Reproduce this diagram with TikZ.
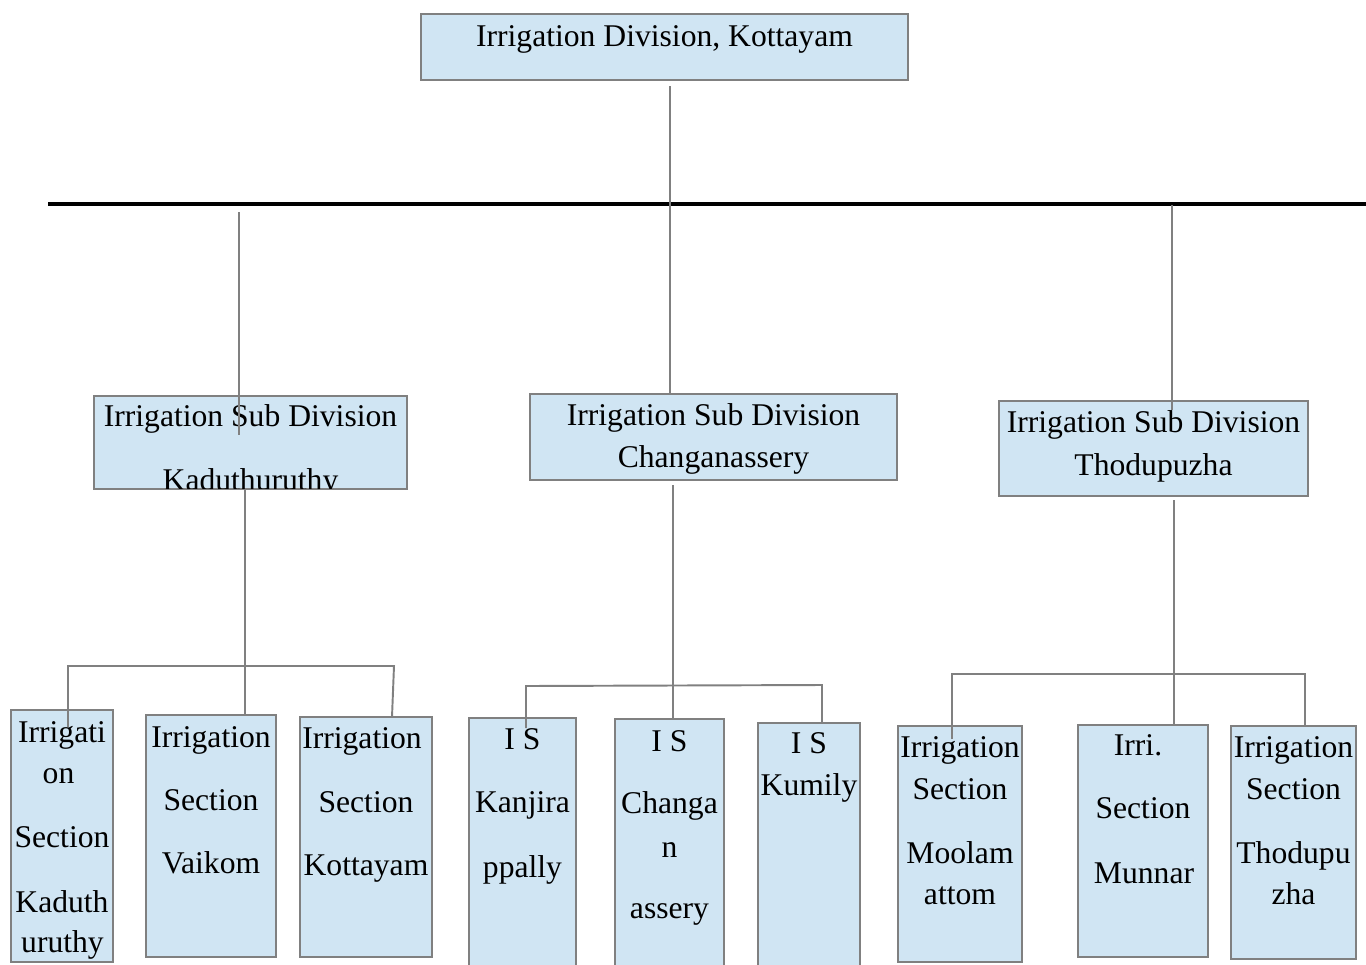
\documentclass[tikz,border=0pt]{standalone}
\usepackage{fontspec}
\setmainfont{Liberation Serif}
\definecolor{boxfill}{RGB}{208,229,243}
\definecolor{boxline}{RGB}{128,128,128}
\tikzset{
  box/.style={rectangle, draw=boxline, fill=boxfill, line width=1.1pt, inner sep=0pt, outer sep=0pt},
  txt/.style={font=\fontsize{18}{22}\selectfont, inner sep=0pt, anchor=base, text=black},
  conn/.style={draw=boxline, line width=1.1pt},
  bar/.style={draw=black, line width=2pt}
}
\newcommand\bx[5]{\node[box, minimum width={(#4-#2)*0.02cm}, minimum height={(#5-#3)*0.02cm}] (#1) at ({(#2+#4)/2},{(#3+#5)/2}) {};}
\newcommand\tline[4]{\node[txt] (#1) at (#2,#3) {#4};}
\begin{document}
\begin{tikzpicture}[x=0.02cm,y=-0.02cm]
\useasboundingbox (0,0) rectangle (1366,964);
\begin{scope}
\clip (0,0) rectangle (1366,964);
% boxes
\bx{top}{421}{14}{908}{80}
\bx{sdk}{94}{396}{407}{489}
\bx{sdc}{530}{394}{897}{480}
\bx{sdt}{999}{401}{1308}{496}
\bx{isk}{11}{710}{113}{962}
\bx{isv}{146}{715}{276}{957}
\bx{isko}{300}{717}{432}{957}
\bx{iskp}{469}{718}{576}{985}
\bx{isc}{615}{719}{724}{985}
\bx{iskm}{758}{723}{860}{985}
\bx{ism}{898}{726}{1022}{962}
\bx{ismu}{1078}{725}{1208}{957}
\bx{ist}{1231}{726}{1356}{959}
% texts
\tline{ttop}{664.5}{46}{Irrigation Division, Kottayam}
\tline{tsdk1}{250.5}{426}{Irrigation Sub Division}
\begin{scope}
\clip (95,397) rectangle (406,488);
\tline{tsdk2}{250.5}{490}{Kaduthuruthy}
\end{scope}
\tline{tsdc1}{713.5}{425}{Irrigation Sub Division}
\tline{tsdc2}{713.5}{467}{Changanassery}
\tline{tsdt1}{1153.5}{432}{Irrigation Sub Division}
\tline{tsdt2}{1153.5}{475}{Thodupuzha}
% section texts
\tline{tisk1}{62}{742}{Irrigati}
\tline{tisk2}{58.5}{783}{on}
\tline{tisk3}{62}{847}{Section}
\tline{tisk4}{62}{912}{Kaduth}
\tline{tisk5}{62.5}{952}{uruthy}
\tline{tisv1}{211}{747}{Irrigation}
\tline{tisv2}{211}{810}{Section}
\tline{tisv3}{211}{873}{Vaikom}
\tline{tisko1}{362}{748}{Irrigation}
\tline{tisko2}{366}{812}{Section}
\tline{tisko3}{366}{875}{Kottayam}
\tline{tiskp1}{522.5}{749}{I S}
\tline{tiskp2}{522.5}{812}{Kanjira}
\tline{tiskp3}{522.5}{877}{ppally}
\tline{tisc1}{669.5}{751}{I S}
\tline{tisc2}{669.5}{813}{Changa}
\tline{tisc3}{669.5}{857}{n}
\tline{tisc4}{669.5}{918}{assery}
\tline{tiskm1}{809}{753}{I S}
\tline{tiskm2}{809}{795}{Kumily}
\tline{tism1}{960}{757}{Irrigation}
\tline{tism2}{960}{799}{Section}
\tline{tism3}{960}{863}{Moolam}
\tline{tism4}{960}{904}{attom}
\tline{tismu1}{1138}{755}{Irri.}
\tline{tismu2}{1143}{818}{Section}
\tline{tismu3}{1144}{883}{Munnar}
\tline{tist1}{1293.5}{757}{Irrigation}
\tline{tist2}{1293.5}{799}{Section}
\tline{tist3}{1293.5}{863}{Thodupu}
\tline{tist4}{1293.5}{904}{zha}
% main bar
\coordinate (barL) at (48,204);
\coordinate (barR) at (1366,204);
\draw[bar] (barL) -- (barR);
% top connectors
\coordinate (c0a) at (670,86);
\draw[conn] (c0a) -- (sdc.north -| c0a);
\coordinate (c1a) at (239,212);
\coordinate (c1b) at (239,435);
\draw[conn] (c1a) -- (c1b);
\coordinate (c2a) at (1172,205);
\coordinate (c2b) at (1172,410);
\draw[conn] (c2a) -- (c2b);
% Kaduthuruthy group
\coordinate (k0) at (245,666);
\draw[conn] (sdk.south -| k0) -- (isv.north -| k0);
\coordinate (kL) at (68,727);
\coordinate (k1) at (68,666);
\coordinate (k2) at (394,666);
\coordinate (k3) at (392,717);
\draw[conn] (kL) -- (k1) -- (k2) -- (k3);
% Changanassery group
\coordinate (cg0) at (673,485);
\draw[conn] (cg0) -- (isc.north -| cg0);
\coordinate (cL) at (526,728);
\coordinate (c1) at (526,686);
\coordinate (c2) at (822,685);
\draw[conn] (cL) -- (c1) -- (c2) -- (iskm.north -| c2);
% Thodupuzha group
\coordinate (tg0) at (1174,500);
\draw[conn] (tg0) -- (ismu.north -| tg0);
\coordinate (tL) at (952,739);
\coordinate (t1) at (952,674);
\coordinate (t2) at (1305,674);
\draw[conn] (tL) -- (t1) -- (t2) -- (ist.north -| t2);
\end{scope}
\end{tikzpicture}
\end{document}
